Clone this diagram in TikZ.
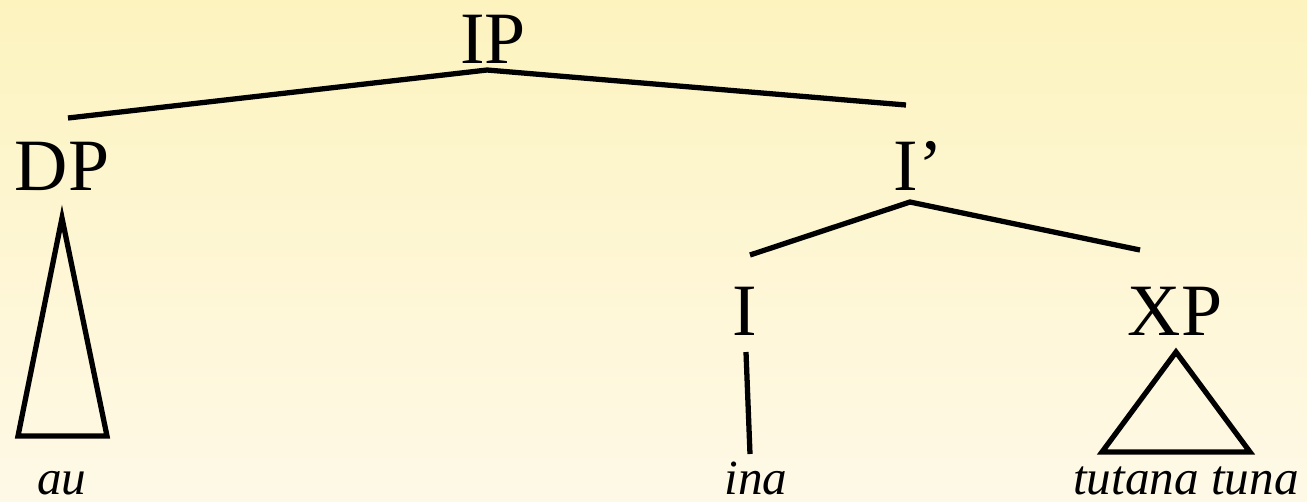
\documentclass[tikz,border=0pt]{standalone}
\usepackage{fontspec}
\setmainfont{Liberation Serif}
\definecolor{papertop}{RGB}{253,243,191}
\definecolor{paperbot}{RGB}{254,249,231}

\begin{document}
\begin{tikzpicture}[cat/.style = {anchor=base,inner sep=0pt,font=\fontsize{21}{24}\selectfont},
		word/.style = {anchor=base,inner sep=0pt,font=\fontsize{14}{17}\selectfont\itshape},
		branch/.style = {line width=1.5pt,line join=miter}]
		\shade[top color=papertop,bottom color=paperbot] (0,0) rectangle (13.07,-5.01);
		\useasboundingbox (0,0) rectangle (13.07,-5.01);
		
		\node[cat] (IP) at (4.93,-0.63) {IP};
		\node[cat] (DP) at (0.62,-1.90) {DP};
		\node[cat] (Ibar) at (9.18,-1.90) {I’};
		\node[cat] (I) at (7.45,-3.35) {I};
		\node[cat] (XP) at (11.75,-3.35) {XP};
		\node[word] (au) at (0.62,-4.94) {au};
		\node[word] (ina) at (7.56,-4.94) {ina};
		\node[word] (tuna) at (11.86,-4.94) {tutana tuna};
		
		\coordinate (IPfoot) at (4.87,-0.70);
		\coordinate (DPtop) at (0.68,-1.18);
		\coordinate (Ibartop) at (9.06,-1.05);
		\coordinate (Ibarfoot) at (9.10,-2.02);
		\coordinate (Itop) at (7.50,-2.55);
		\coordinate (XPtop) at (11.40,-2.50);
		\coordinate (Ifoot) at (7.46,-3.52);
		\coordinate (inatop) at (7.50,-4.54);
		
		\draw[branch] (DPtop) -- (IPfoot) -- (Ibartop);
		\draw[branch] (Itop) -- (Ibarfoot) -- (XPtop);
		\draw[branch] (Ifoot) -- (inatop);
		% roof over the two phrases
		\draw[branch] (0.62,-2.18) -- (0.18,-4.36) -- (1.07,-4.36) -- cycle;
		\draw[branch] (11.76,-3.52) -- (11.02,-4.52) -- (12.50,-4.52) -- cycle;
	\end{tikzpicture}
\end{document}
